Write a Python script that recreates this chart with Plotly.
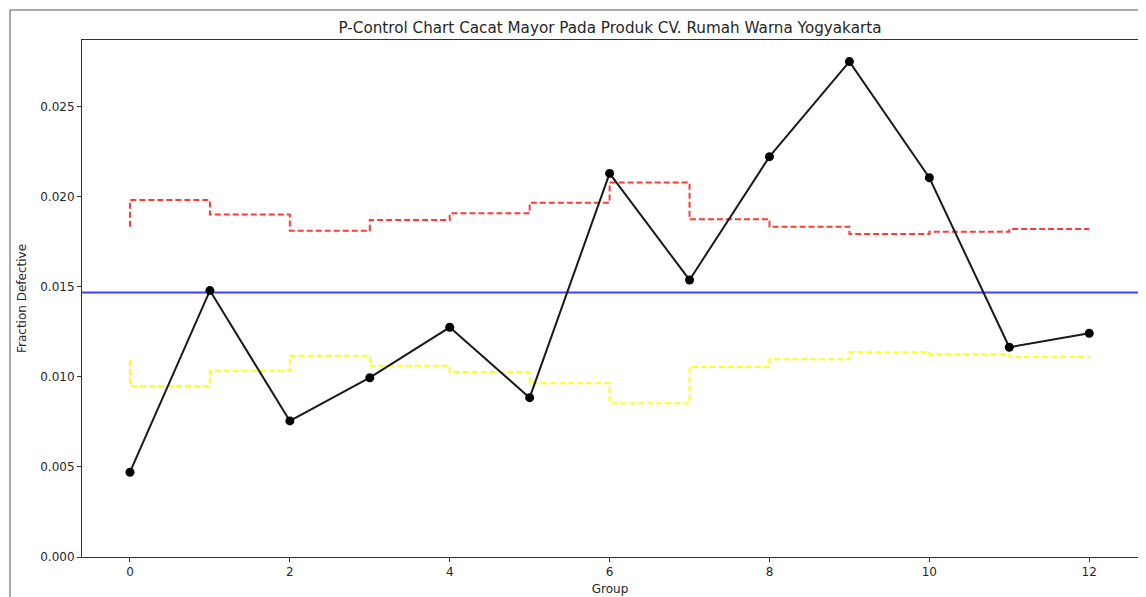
import plotly.graph_objects as go

groups = list(range(13))
fraction_defective = [0.00471, 0.01480, 0.00756, 0.00996, 0.01276, 0.00885, 0.02131,
                      0.01539, 0.02224, 0.02752, 0.02107, 0.01165, 0.01243]
ucl = [0.01835, 0.01983, 0.01902, 0.01813, 0.01872, 0.01909, 0.01968,
       0.02080, 0.01876, 0.01835, 0.01794, 0.01807, 0.01822]
lcl = [0.01094, 0.00950, 0.01035, 0.01118, 0.01063, 0.01028, 0.00965,
       0.00854, 0.01056, 0.01098, 0.01137, 0.01126, 0.01113]
p_bar = 0.01469

title_text = "P-Control Chart Cacat Mayor Pada Produk CV. Rumah Warna Yogyakarta"
x_ticks = [0, 2, 4, 6, 8, 10, 12]
y_ticks = [0.000, 0.005, 0.010, 0.015, 0.020, 0.025]

FONT = "DejaVu Sans"
TXT = "#262626"

fig = go.Figure()

fig.add_trace(go.Scatter(
    x=groups, y=ucl, mode="lines", line=dict(shape="vh", color="rgba(255,0,0,0.78)", width=2, dash="6px,3px"),
    hoverinfo="skip", showlegend=False))
fig.add_trace(go.Scatter(
    x=groups, y=lcl, mode="lines", line=dict(shape="vh", color="#ffff1a", width=2, dash="6px,3px"),
    hoverinfo="skip", showlegend=False))
fig.add_trace(go.Scatter(
    x=[-0.6, 12.61], y=[p_bar, p_bar], mode="lines", line=dict(color="rgba(0,0,255,0.75)", width=2),
    hoverinfo="skip", showlegend=False))
fig.add_trace(go.Scatter(
    x=groups, y=fraction_defective, mode="lines+markers",
    line=dict(color="#1a1a1a", width=2), marker=dict(color="black", size=9),
    showlegend=False))

# outer figure border (notebook output frame)
fig.add_shape(type="rect", xref="paper", yref="paper",
              x0=(10 - 82) / 1056, x1=(1143 - 82) / 1056, y0=-0.2, y1=(557 - 10) / 517,
              line=dict(color="#555555", width=1), layer="below")

fig.update_layout(
    width=1138, height=589,
    margin=dict(l=74, r=8, t=32, b=40, autoexpand=False),
    paper_bgcolor="white", plot_bgcolor="white",
    font=dict(family=FONT, size=12, color=TXT),
    title=dict(text=title_text, x=602 / 1138, xanchor="center", y=1 - 20 / 589, yanchor="middle",
               font=dict(family=FONT, size=15.2, color=TXT)),
    xaxis=dict(range=[-0.6, 12.61], tickvals=x_ticks, ticktext=[str(t) for t in x_ticks], automargin=False,
               showgrid=False, zeroline=False, showline=True, mirror=True, linecolor="#333333", linewidth=1,
               ticks="outside", ticklen=4, tickcolor="#333333",
               title=dict(text="Group", standoff=6, font=dict(family=FONT, size=12, color=TXT))),
    yaxis=dict(range=[0, 0.02872], tickvals=y_ticks, ticktext=[f"{t:.3f}" for t in y_ticks], automargin=False,
               showgrid=False, zeroline=False, showline=True, mirror=True, linecolor="#333333", linewidth=1,
               ticks="outside", ticklen=4, tickcolor="#333333",
               title=dict(text="Fraction Defective", standoff=11, font=dict(family=FONT, size=12, color=TXT))),
)

fig.write_html("out.html")
